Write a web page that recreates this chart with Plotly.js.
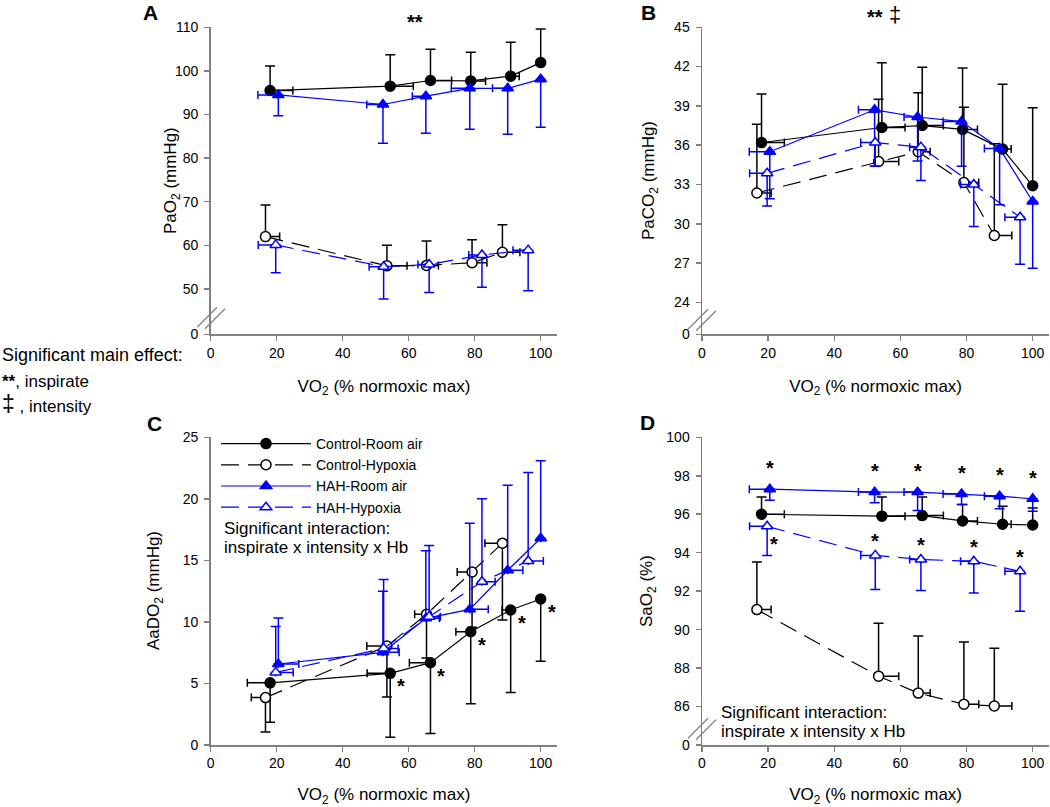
<!DOCTYPE html>
<html><head><meta charset="utf-8">
<script src="https://cdn.plot.ly/plotly-3.0.1.min.js"></script>
<style>html,body{margin:0;padding:0;background:#fff}#chart{width:1050px;height:807px}</style>
</head><body><div id="chart"></div>
<script>
// ---------- DATA ----------
const seriesNames = ['Control-Room air', 'Control-Hypoxia', 'HAH-Room air', 'HAH-Hypoxia'];
const xTickVals = [0, 20, 40, 60, 80, 100];

// VO2 (% normoxic max), mean and SD
const vo2CtrlRoom = [18.0, 54.4, 66.6, 78.8, 90.9, 100];
const vo2CtrlHyp  = [16.6, 53.4, 65.4, 79.2, 88.4];
const vo2HahRoom  = [20.5, 52.2, 65.2, 78.5, 90.0, 100];
const vo2HahHyp   = [19.7, 52.4, 66.2, 82.2, 96.2];
const sdVo2CtrlRoom = [6.9, 7.0, 6.4, 4.5, 2.6, 0];
const sdVo2CtrlHyp  = [4.3, 6.1, 3.6, 4.5, 5.3];
const sdVo2HahRoom  = [6.2, 4.9, 4.1, 5.6, 4.6, 0];
const sdVo2HahHyp   = [5.3, 4.4, 3.4, 4.0, 4.6];

// A: PaO2 (mmHg)
const paO2CtrlRoom = [95.5, 96.5, 97.8, 97.7, 98.8, 101.9];
const sdPaO2CtrlRoom = [5.6, 7.2, 7.15, 6.6, 7.8, 7.7];
const paO2CtrlHyp = [62.0, 55.3, 55.4, 56.0, 58.4];
const sdPaO2CtrlHyp = [7.25, 4.7, 5.6, 5.3, 6.3];
const paO2HahRoom = [94.5, 92.3, 94.2, 96.0, 96.0, 98.1];
const sdPaO2HahRoom = [4.8, 8.9, 8.5, 9.4, 10.5, 11.0];
const paO2HahHyp = [60.1, 55.1, 55.6, 57.8, 58.9];
const sdPaO2HahHyp = [6.4, 7.4, 6.4, 7.4, 9.3];
const paO2TickLabels = [0, 50, 60, 70, 80, 90, 100, 110];

// B: PaCO2 (mmHg)
const paCO2CtrlRoom = [36.2, 37.35, 37.5, 37.2, 35.7, 32.9];
const sdPaCO2CtrlRoom = [3.7, 4.95, 4.45, 4.7, 4.95, 5.95];
const paCO2CtrlHyp = [32.35, 34.75, 35.5, 33.15, 29.1];
const sdPaCO2CtrlHyp = [5.25, 4.75, 4.5, 5.75, 7.0];
const paCO2HahRoom = [35.5, 38.7, 38.15, 37.8, 35.75, 31.7];
const sdPaCO2HahRoom = [3.6, 4.3, 3.35, 3.4, 4.3, 5.1];
const paCO2HahHyp = [33.85, 36.2, 35.85, 33.0, 30.5];
const sdPaCO2HahHyp = [2.5, 1.8, 2.55, 3.2, 3.6];
const paCO2TickLabels = [0, 24, 27, 30, 33, 36, 39, 42, 45];

// C: AaDO2 (mmHg)
const aaDO2CtrlRoom = [5.05, 5.82, 6.69, 9.2, 10.97, 11.86];
const sdAaDO2CtrlRoom = [3.2, 5.2, 5.75, 5.85, 6.7, 5.05];
const aaDO2CtrlHyp = [3.85, 8.04, 10.62, 14.06, 16.4];
const sdAaDO2CtrlHyp = [2.8, 4.15, 3.55, 4.5, 6.25];
const aaDO2HahRoom = [6.58, 7.53, 10.29, 11.02, 14.2, 16.8];
const sdAaDO2HahRoom = [3.74, 4.97, 5.5, 7.0, 6.9, 6.3];
const aaDO2HahHyp = [5.9, 7.85, 10.43, 13.27, 14.95];
const sdAaDO2HahHyp = [3.72, 5.6, 5.77, 6.73, 7.2];
const aaDO2TickLabels = [0, 5, 10, 15, 20, 25];
const aaDO2StarIdx = [1, 2, 3, 4, 5];   // Control-Room air points with *

// D: SaO2 (%)
const saO2CtrlRoom = [96.0, 95.9, 95.93, 95.65, 95.48, 95.44];
const sdSaO2CtrlRoom = [0.89, 1.0, 0.97, 0.85, 0.94, 0.89];
const saO2CtrlHyp = [91.04, 87.58, 86.7, 86.12, 86.03];
const sdSaO2CtrlHyp = [2.47, 2.75, 2.97, 3.24, 3.0];
const saO2HahRoom = [97.3, 97.15, 97.15, 97.05, 96.94, 96.8];
const sdSaO2HahRoom = [0.57, 0.55, 0.95, 0.55, 0.66, 0.64];
const saO2HahHyp = [95.37, 93.86, 93.65, 93.55, 93.03];
const sdSaO2HahHyp = [1.51, 1.77, 1.62, 1.65, 2.07];
const saO2TickLabels = [0, 86, 88, 90, 92, 94, 96, 98, 100];

// ---------- STYLE / LAYOUT ----------
const W = 1050, H = 807;
const FONT = 'Liberation Sans, Arial, Helvetica, sans-serif';
const BLACK = '#000000', BLUE = '#0000ff', AXIS = '#808080';
const px = x => x / W;
const py = y => 1 - y / H;

const styles = [
  {color: BLACK, symbol: 'circle', fill: BLACK, dash: 'solid', size: 10},
  {color: BLACK, symbol: 'circle', fill: '#ffffff', dash: '18px,9px', size: 10},
  {color: BLUE, symbol: 'triangle-up', fill: BLUE, dash: 'solid', size: 10},
  {color: BLUE, symbol: 'triangle-up', fill: '#ffffff', dash: '18px,9px', size: 10}
];

function zeros(a) { return a.map(() => 0); }

function trace(k, x, xsd, y, ysd, xDir, yDir, ax, showlegend) {
  const s = styles[k];
  return {
    type: 'scatter', mode: 'lines+markers', name: seriesNames[k],
    x: x, y: y, xaxis: 'x' + ax, yaxis: 'y' + ax,
    showlegend: showlegend,
    line: {color: s.color, width: 1.2, dash: s.dash},
    marker: {symbol: s.symbol, size: s.size, color: s.fill, line: {color: s.color, width: 1.5}},
    error_x: {type: 'data', symmetric: false,
      array: xDir > 0 ? xsd : zeros(xsd), arrayminus: xDir > 0 ? zeros(xsd) : xsd,
      color: s.color, thickness: 1.5, width: 4},
    error_y: {type: 'data', symmetric: false,
      array: yDir > 0 ? ysd : zeros(ysd), arrayminus: yDir > 0 ? zeros(ysd) : ysd,
      color: s.color, thickness: 1.5, width: 5},
    hoverinfo: 'x+y+name'
  };
}

const data = [
  // A
  trace(0, vo2CtrlRoom, sdVo2CtrlRoom, paO2CtrlRoom, sdPaO2CtrlRoom, 1, 1, '', false),
  trace(1, vo2CtrlHyp, sdVo2CtrlHyp, paO2CtrlHyp, sdPaO2CtrlHyp, 1, 1, '', false),
  trace(2, vo2HahRoom, sdVo2HahRoom, paO2HahRoom, sdPaO2HahRoom, -1, -1, '', false),
  trace(3, vo2HahHyp, sdVo2HahHyp, paO2HahHyp, sdPaO2HahHyp, -1, -1, '', false),
  // B
  trace(0, vo2CtrlRoom, sdVo2CtrlRoom, paCO2CtrlRoom, sdPaCO2CtrlRoom, 1, 1, '2', false),
  trace(1, vo2CtrlHyp, sdVo2CtrlHyp, paCO2CtrlHyp, sdPaCO2CtrlHyp, 1, 1, '2', false),
  trace(2, vo2HahRoom, sdVo2HahRoom, paCO2HahRoom, sdPaCO2HahRoom, -1, -1, '2', false),
  trace(3, vo2HahHyp, sdVo2HahHyp, paCO2HahHyp, sdPaCO2HahHyp, -1, -1, '2', false),
  // C
  trace(0, vo2CtrlRoom, sdVo2CtrlRoom, aaDO2CtrlRoom, sdAaDO2CtrlRoom, -1, -1, '3', true),
  trace(1, vo2CtrlHyp, sdVo2CtrlHyp, aaDO2CtrlHyp, sdAaDO2CtrlHyp, -1, -1, '3', true),
  trace(2, vo2HahRoom, sdVo2HahRoom, aaDO2HahRoom, sdAaDO2HahRoom, 1, 1, '3', true),
  trace(3, vo2HahHyp, sdVo2HahHyp, aaDO2HahHyp, sdAaDO2HahHyp, 1, 1, '3', true),
  // D
  trace(0, vo2CtrlRoom, sdVo2CtrlRoom, saO2CtrlRoom, sdSaO2CtrlRoom, 1, 1, '4', false),
  trace(1, vo2CtrlHyp, sdVo2CtrlHyp, saO2CtrlHyp, sdSaO2CtrlHyp, 1, 1, '4', false),
  trace(2, vo2HahRoom, sdVo2HahRoom, saO2HahRoom, sdSaO2HahRoom, -1, -1, '4', false),
  trace(3, vo2HahHyp, sdVo2HahHyp, saO2HahHyp, sdSaO2HahHyp, -1, -1, '4', false)
];

// pixel frames of the four plot areas
const leftX = [210.7, 557.2], rightX = [702, 1049.2];
const topY = [27.3, 334.3], botY = [437.3, 745];
const X_RANGE = [0, 105];

// axis breaks: the tick labelled "0" sits one break-gap below the lowest real tick
const breakA = 39.6, breakB = 21.56, breakD = 84.0;

function xAxis(frame, anchor) {
  return {
    domain: [px(frame[0]), px(frame[1])], range: X_RANGE, anchor: anchor,
    tickmode: 'array', tickvals: xTickVals, ticks: 'outside', ticklen: 5, tickwidth: 1.5,
    tickcolor: AXIS, showline: true, linecolor: AXIS, linewidth: 1.5,
    showgrid: false, zeroline: false,
    tickfont: {family: FONT, size: 14, color: BLACK},
    title: {text: 'VO<sub>2</sub> (% normoxic max)', font: {family: FONT, size: 17, color: BLACK}, standoff: 20}
  };
}
function yAxis(frame, anchor, range, labels, breakVal) {
  const vals = labels.map((v, i) => (breakVal !== null && i === 0) ? breakVal : v);
  return {
    domain: [py(frame[1]), py(frame[0])], range: range, anchor: anchor,
    tickmode: 'array', tickvals: vals, ticktext: labels.map(String),
    ticks: 'outside', ticklen: 5, tickwidth: 1.5, tickcolor: AXIS,
    showline: true, linecolor: AXIS, linewidth: 1.5, showgrid: false, zeroline: false,
    tickfont: {family: FONT, size: 14, color: BLACK}, ticklabelstandoff: 3
  };
}

function ann(text, x, y, size, opts) {
  return Object.assign({
    text: text, x: px(x), y: py(y), xref: 'paper', yref: 'paper',
    showarrow: false, xanchor: 'center', yanchor: 'middle',
    font: {family: FONT, size: size, color: BLACK}
  }, opts || {});
}
function ytitle(text, x, y) {
  return ann(text, x, y, 17, {textangle: -90});
}

const annotations = [
  ann('<b>A</b>', 150, 13, 21), ann('<b>B</b>', 648, 12, 21),
  ann('<b>C</b>', 154, 423, 21), ann('<b>D</b>', 647, 422, 21),
  ann('<b>**</b>', 415, 22, 20),
  ann('<b>**</b>', 875, 17, 20), ann('‡', 895, 14.5, 22),
  ann('Significant main effect:', 0, 355, 18, {xanchor: 'left'}),
  ann('<b>**</b>, inspirate', 0, 381, 17, {xanchor: 'left'}),
  ann('<span style="font-size:23px">‡</span> , intensity', 0, 404, 17, {xanchor: 'left'}),
  ytitle('PaO<sub>2</sub> (mmHg)', 172, 181),
  ytitle('PaCO<sub>2</sub> (mmHg)', 650, 181),
  ytitle('AaDO<sub>2</sub> (mmHg)', 155, 591),
  ytitle('SaO<sub>2</sub> (%)', 648, 591),
  ann('Significant interaction:', 221.7, 528.3, 17, {xanchor: 'left'}),
  ann('inspirate x intensity x Hb', 221.7, 547.5, 17, {xanchor: 'left'}),
  ann('Significant interaction:', 719, 712.5, 17, {xanchor: 'left'}),
  ann('inspirate x intensity x Hb', 719, 731.5, 17, {xanchor: 'left'})
];

function star(xa, ya, x, y, xs, ys) {
  return {text: '<b>*</b>', x: x, y: y, xref: xa, yref: ya, showarrow: false,
    xshift: xs, yshift: ys, xanchor: 'center', yanchor: 'middle',
    font: {family: FONT, size: 20, color: BLACK}};
}
aaDO2StarIdx.forEach(i => annotations.push(star('x3', 'y3', vo2CtrlRoom[i], aaDO2CtrlRoom[i], 11, -13)));
saO2HahRoom.forEach((v, i) => annotations.push(star('x4', 'y4', vo2HahRoom[i], v, 0, 21)));
saO2HahHyp.forEach((v, i) => annotations.push(
  i === 0 ? star('x4', 'y4', vo2HahHyp[i], v, 7, -18) : star('x4', 'y4', vo2HahHyp[i], v, 0, 14)));

// axis-break slashes
function breakMarks(cx, cy) {
  const out = [];
  [-4, 4].forEach(d => {
    out.push({type: 'line', xref: 'paper', yref: 'paper',
      x0: px(cx - 10 + d), y0: py(cy + 10 + d * 0.2), x1: px(cx + 10 + d), y1: py(cy - 10 + d * 0.2),
      line: {color: AXIS, width: 1.3}});
  });
  return out;
}
const shapes = [].concat(breakMarks(211, 318), breakMarks(702, 320), breakMarks(702, 729));

const layout = {
  width: W, height: H, margin: {l: 0, r: 0, t: 0, b: 0},
  paper_bgcolor: '#ffffff', plot_bgcolor: 'rgba(0,0,0,0)',
  font: {family: FONT, color: BLACK},
  showlegend: true,
  legend: {x: px(216), y: py(428), xanchor: 'left', yanchor: 'top', xref: 'paper', yref: 'paper',
    bgcolor: 'rgba(0,0,0,0)', borderwidth: 0, itemwidth: 90, tracegroupgap: 0,
    font: {family: FONT, size: 14, color: BLACK}, traceorder: 'normal'},
  xaxis: xAxis(leftX, 'y'),
  yaxis: yAxis(topY, 'x', [breakA, 110], paO2TickLabels, breakA),
  xaxis2: xAxis(rightX, 'y2'),
  yaxis2: yAxis(topY, 'x2', [breakB, 45], paCO2TickLabels, breakB),
  xaxis3: xAxis(leftX, 'y3'),
  yaxis3: yAxis(botY, 'x3', [0, 25], aaDO2TickLabels, null),
  xaxis4: xAxis(rightX, 'y4'),
  yaxis4: yAxis(botY, 'x4', [breakD, 100], saO2TickLabels, breakD),
  annotations: annotations,
  shapes: shapes
};

Plotly.newPlot('chart', data, layout, {displayModeBar: false, staticPlot: true});
</script>
</body></html>
